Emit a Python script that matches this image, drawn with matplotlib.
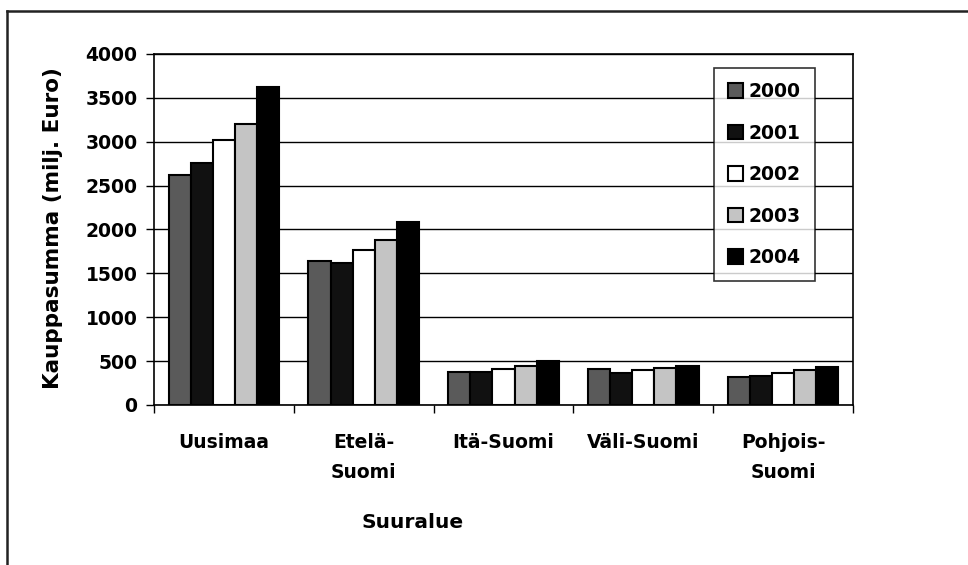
import numpy as np
import matplotlib.pyplot as plt
from matplotlib.lines import Line2D

# data
regions = ['Uusimaa', 'Etelä-\nSuomi', 'Itä-Suomi', 'Väli-Suomi', 'Pohjois-\nSuomi']
years = ['2000', '2001', '2002', '2003', '2004']
v2000 = [2620, 1640, 375, 405, 315]
v2001 = [2760, 1620, 375, 360, 335]
v2002 = [3020, 1770, 405, 395, 360]
v2003 = [3200, 1880, 440, 420, 400]
v2004 = [3620, 2090, 500, 450, 430]
yticks = [0, 500, 1000, 1500, 2000, 2500, 3000, 3500, 4000]

series = [v2000, v2001, v2002, v2003, v2004]
fills = ['#5a5a5a', '#111111', '#ffffff', '#c4c4c4', '#000000']

W, H = 968, 565
fig = plt.figure(figsize=(W / 100, H / 100), dpi=100)
plt.rcParams['font.family'] = 'DejaVu Sans'
ax = fig.add_axes([154 / W, 1 - 405 / H, (853 - 154) / W, (405 - 54) / H])

x = np.arange(len(regions))
bw = 0.158
for i, (vals, fc) in enumerate(zip(series, fills)):
    ax.bar(x + (i - 2) * bw, vals, width=bw, color=fc, edgecolor='black',
           linewidth=1.5, label=years[i], zorder=3)

ax.set_xlim(-0.5, len(regions) - 0.5)
ax.set_ylim(0, 4000)
ax.set_yticks(yticks)
ax.yaxis.grid(True, color='black', linewidth=1)
ax.set_axisbelow(True)

ax.set_xticks(x)
ax.set_xticklabels(regions, fontsize=13.5, fontweight='bold', linespacing=1.75)
ax.set_xticks(np.arange(-0.5, len(regions), 1.0), minor=True)
ax.tick_params(axis='x', which='major', length=0, pad=20)
ax.tick_params(axis='x', which='minor', length=6, width=1, direction='out')
ax.tick_params(axis='y', length=6, width=1, direction='out', pad=6, labelsize=13.5)
for lab in ax.get_yticklabels():
    lab.set_fontweight('bold')
for s in ax.spines.values():
    s.set_color('black')
    s.set_linewidth(1.2)

fig.text(53 / W, 1 - 228 / H, 'Kauppasumma (milj. Euro)', rotation=90,
         ha='center', va='center', fontsize=15.5, fontweight='bold')
fig.text(413 / W, 1 - 522 / H, 'Suuralue', ha='center', va='center',
         fontsize=14.5, fontweight='bold')

leg = ax.legend(loc='upper left', bbox_to_anchor=(714 / W, 1 - 68 / H),
                bbox_transform=fig.transFigure, fontsize=13.5, frameon=True,
                fancybox=False, edgecolor='black', handlelength=0.8,
                handleheight=0.8, handletextpad=0.3, labelspacing=1.2,
                borderpad=0.75, borderaxespad=0)
leg.get_frame().set_linewidth(1.2)
for t in leg.get_texts():
    t.set_fontweight('bold')

# outer chart-area frame (only left and top edges visible in the scan)
fig.add_artist(Line2D([7 / W, 7 / W], [0, 1 - 11 / H], transform=fig.transFigure,
                      color='#222222', linewidth=1.8))
fig.add_artist(Line2D([7 / W, 1], [1 - 11 / H, 1 - 11 / H], transform=fig.transFigure,
                      color='#222222', linewidth=1.8))

fig.savefig('out.png', dpi=100)
